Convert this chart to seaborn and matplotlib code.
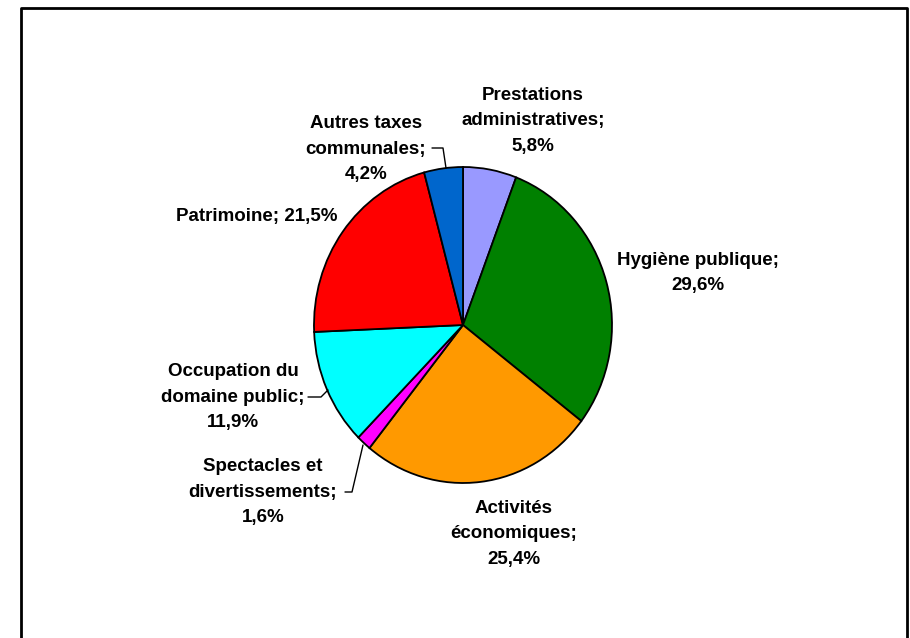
import matplotlib
matplotlib.use("Agg")
import matplotlib.pyplot as plt
import seaborn as sns

categories = ["Prestations administratives", "Hygiène publique", "Activités économiques",
              "Spectacles et divertissements", "Occupation du domaine public",
              "Patrimoine", "Autres taxes communales"]
values = [5.8, 29.6, 25.4, 1.6, 11.9, 21.5, 4.2]
label_texts = ["Prestations\nadministratives;\n5,8%", "Hygiène publique;\n29,6%",
               "Activités\néconomiques;\n25,4%", "Spectacles et\ndivertissements;\n1,6%",
               "Occupation du\ndomaine public;\n11,9%", "Patrimoine; 21,5%",
               "Autres taxes\ncommunales;\n4,2%"]
colors = ["#9999FF", "#008000", "#FF9900", "#FF00FF", "#00FFFF", "#FF0000", "#0066CC"]

sns.set_theme(style="white")
plt.rcParams['font.family'] = ['Liberation Sans', 'DejaVu Sans']

W, H = 910, 638
fig = plt.figure(figsize=(W / 100, H / 100), dpi=100)
ax = fig.add_axes([0, 0, 1, 1])

CX, CY, RX, RY = 463, 325, 149, 158

ax.pie(values, colors=colors, startangle=90, counterclock=False,
       wedgeprops=dict(edgecolor="black", linewidth=1.3))
ax.set_aspect("auto")
ax.set_xlim(-CX / RX, (W - CX) / RX)
ax.set_ylim(-(H - CY) / RY, CY / RY)
ax.axis("off")


def d(px, py):
    return (px - CX) / RX, (CY - py) / RY


label_pos = [(533, 121), (698, 273), (514, 534), (263, 492), (233, 397), (257, 216), (366, 149)]
for txt, (px_, py_) in zip(label_texts, label_pos):
    x, y = d(px_, py_)
    ax.text(x, y, txt, ha="center", va="center", fontsize=13.5, fontweight="bold",
            linespacing=1.62, color="black")

# leader lines
leaders = [
    [(432, 148), (443, 148), (446, 168)],
    [(308, 397), (321, 397), (328, 390)],
    [(345, 492), (352, 492), (363, 445)],
]
for pts in leaders:
    xs, ys = zip(*[d(a, b) for a, b in pts])
    ax.plot(xs, ys, color="black", linewidth=1.0)

# outer frame (open at bottom)
L, T, R = 21 / W, 1 - 8 / H, 907 / W
fig.add_artist(plt.Line2D([L, L, R, R], [0, T, T, 0], transform=fig.transFigure,
                          color="black", linewidth=2))

fig.savefig("out.png", dpi=100)
